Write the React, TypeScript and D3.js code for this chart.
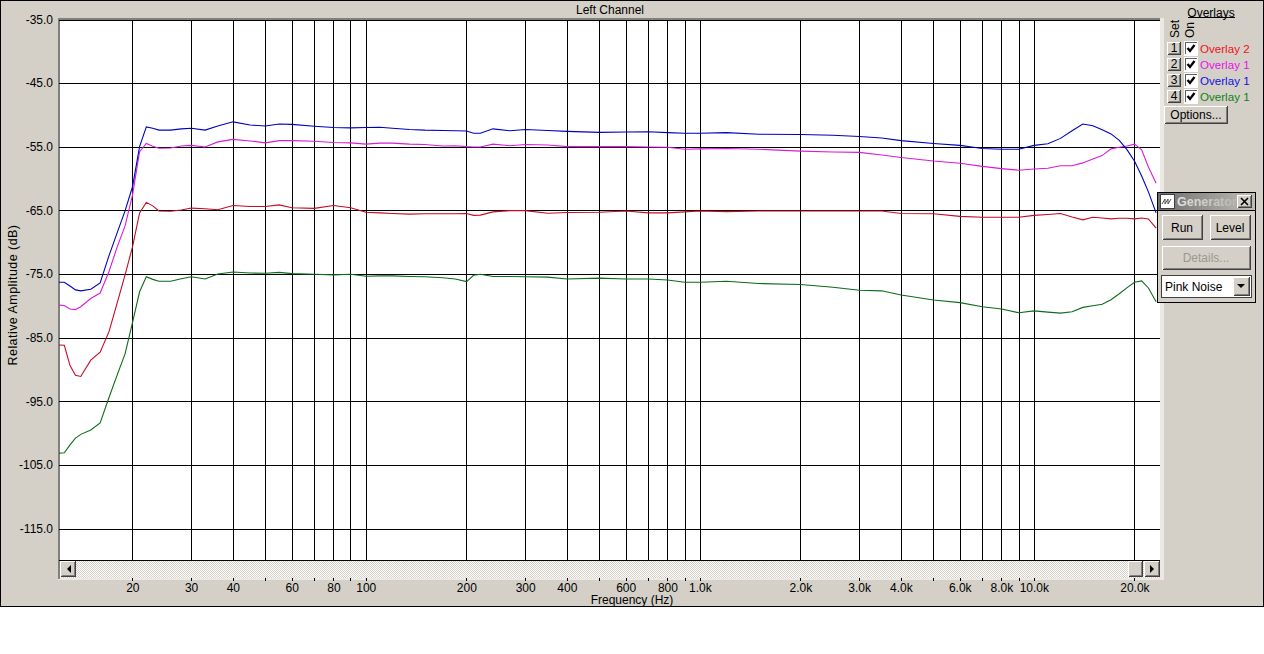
import React, { useRef, useEffect } from 'react';
import * as d3 from 'd3';

const { select, scaleLog, scaleLinear, axisLeft, axisTop, axisBottom, line } = d3;

// frequencies (Hz) the curves were read at
const freqs = [
  12.05, 12.5, 13, 13.5, 14, 15, 16, 17, 18, 19, 20, 21, 22, 23, 24, 26, 28, 30, 33, 36, 40, 45, 50, 55, 60, 70, 80, 90,
  100, 110, 120, 135, 150, 170, 185, 200, 210, 220, 240, 270, 300, 350, 400, 500, 600, 700, 800, 900, 1000, 1200, 1500,
  2000, 2500, 3000, 3500, 4000, 5000, 6000, 7000, 8000, 9000, 10000, 11000, 12000, 13000, 14000, 15000, 16000, 17000,
  18000, 19000, 20000, 21000, 22000, 23200,
];

const redDb = [
  -86.05, -86.1, -89.3, -90.8, -91, -88.45, -87.2, -84, -79.45, -75.05, -70.65, -65.3, -63.65, -64.2, -65, -65.05,
  -64.85, -64.55, -64.65, -64.8, -64.15, -64.3, -64.3, -64.05, -64.5, -64.6, -64.15, -64.5, -65.2, -65.3, -65.4, -65.5,
  -65.45, -65.45, -65.45, -65.4, -65.7, -65.65, -65.15, -64.95, -64.95, -65.35, -65.25, -65.2, -65, -65.3, -65.3,
  -65.15, -65, -65.1, -65, -65, -65, -65, -65, -65.4, -65.45, -65.85, -66, -66, -66, -65.7, -65.55, -65.4, -65.95,
  -66.4, -66, -66.1, -66.25, -66.15, -66.15, -66.25, -66.1, -66.25, -67.7,
];

const magentaDb = [
  -79.8, -79.85, -80.4, -80.5, -80.05, -78.75, -77.9, -74.55, -70.65, -67.35, -62.5, -55.7, -54.4, -54.85, -55.15,
  -55.1, -54.8, -54.7, -54.95, -54.15, -53.75, -54, -54.3, -53.95, -53.95, -54.05, -54.25, -54.3, -54.5, -54.35,
  -54.35, -54.5, -54.55, -54.8, -54.75, -54.9, -54.95, -54.95, -54.5, -54.75, -54.55, -54.65, -54.9, -54.9, -54.9,
  -54.95, -55, -55.3, -55.25, -55.2, -55.3, -55.6, -55.75, -55.8, -56.2, -56.6, -57.15, -57.5, -58, -58.35, -58.6,
  -58.4, -58.3, -57.9, -57.9, -57.45, -56.85, -56.3, -55.25, -55, -54.8, -54.5, -55.4, -58.1, -60.65,
];

const blueDb = [
  -76.2, -76.2, -76.8, -77.4, -77.55, -77.3, -76.3, -72.05, -68.4, -65, -61.2, -54.9, -51.8, -52, -52.3, -52.3, -52.1,
  -52, -52.3, -51.65, -51, -51.5, -51.65, -51.35, -51.4, -51.7, -51.9, -51.95, -51.9, -51.85, -52, -52.2, -52.3,
  -52.35, -52.4, -52.45, -52.8, -52.8, -52.1, -52.4, -52.2, -52.35, -52.5, -52.65, -52.6, -52.55, -52.7, -52.8, -52.8,
  -52.7, -52.95, -53, -53.1, -53.3, -53.55, -53.95, -54.4, -54.7, -55.2, -55.3, -55.3, -54.7, -54.45, -53.6, -52.4,
  -51.35, -51.6, -52.25, -52.9, -53.9, -55.4, -57.2, -59.5, -62, -65.3,
];

const greenDb = [
  -103.05, -103, -101.75, -100.7, -100.1, -99.4, -98.3, -94.35, -90.75, -87.45, -82.55, -77.7, -75.35, -75.75, -76.05,
  -76.05, -75.65, -75.35, -75.7, -74.9, -74.6, -74.75, -74.8, -74.65, -74.85, -74.95, -75.05, -74.95, -75.25, -75.2,
  -75.2, -75.3, -75.35, -75.5, -75.7, -76.1, -75.1, -74.95, -75.3, -75.3, -75.35, -75.4, -75.7, -75.55, -75.7, -75.7,
  -75.85, -76.2, -76.2, -76.05, -76.4, -76.55, -77, -77.45, -77.55, -78.2, -79, -79.4, -80.05, -80.4, -81, -80.7,
  -80.9, -81.05, -80.85, -80.15, -79.9, -79.65, -78.95, -78, -77.05, -76.2, -76, -77.1, -79.25,
];

const yTicks = [-35, -45, -55, -65, -75, -85, -95, -105, -115];
const xTicks = [
  20, 30, 40, 50, 60, 70, 80, 90, 100, 200, 300, 400, 500, 600, 700, 800, 900, 1000, 2000, 3000, 4000, 5000, 6000, 7000,
  8000, 9000, 10000, 20000,
];
const unlabelled = [50, 70, 90, 500, 700, 900, 5000, 7000, 9000];

const seriesList = [redDb, magentaDb, blueDb, greenDb];
const lineColors = ['#c80a28', '#d81cd8', '#0000c0', '#0c6c18'];
const legendNames = ['Overlay 2', 'Overlay 1', 'Overlay 1', 'Overlay 1'];
const legendColors = ['#f01020', '#e810e8', '#1010e0', '#108010'];
const setLabels = ['1', '2', '3', '4'];

const FACE = '#d4d0c8';
const FONT = '"Liberation Sans", Arial, sans-serif';

const formatFreq = (f: number) => {
  if (unlabelled.includes(f)) return '';
  return f >= 1000 ? `${(f / 1000).toFixed(1)}k` : `${f}`;
};

// raised windows-style button
const Bevel = ({ x, y, w, h, fill = FACE }: { x: number; y: number; w: number; h: number; fill?: string }) => (
  <g shapeRendering="crispEdges">
    <rect x={x} y={y} width={w} height={h} fill={fill} />
    <path d={`M${x + 0.5} ${y + h}V${y + 0.5}H${x + w}`} fill="none" stroke="#fff" />
    <path d={`M${x + 0.5} ${y + h - 0.5}H${x + w - 0.5}V${y}`} fill="none" stroke="#404040" />
    <path d={`M${x + 1.5} ${y + h - 1.5}H${x + w - 1.5}V${y + 1}`} fill="none" stroke="#808080" />
  </g>
);

const Label = ({ x, y, children, anchor = 'middle', fill = '#000', size = 12, spacing = 0 }: any) => (
  <text
    x={x}
    y={y}
    textAnchor={anchor}
    fill={fill}
    fontSize={size}
    fontFamily={FONT}
    letterSpacing={spacing}
    dominantBaseline="central"
  >
    {children}
  </text>
);

export default function App() {
  const plotRef = useRef<SVGGElement>(null);

  useEffect(() => {
    if (!plotRef.current) return;
    const left = 59;
    const right = 1160;
    const top = 20;
    const bottom = 560;

    const x = scaleLog().domain([12.05, 23830]).range([left, right]);
    const y = scaleLinear().domain([-35, -119.84]).range([top, bottom]);

    const svg = select(plotRef.current);
    svg.selectAll('*').remove();

    // horizontal grid with the dB labels
    const yAxis = svg
      .append('g')
      .attr('transform', `translate(${left},-0.5)`)
      .call(
        axisLeft(y)
          .tickValues(yTicks)
          .tickFormat(d => (d as number).toFixed(1))
          .tickSize(-(right - left))
          .tickPadding(6)
      );
    yAxis.select('.domain').remove();
    yAxis.selectAll('text').attr('font-family', FONT).attr('font-size', 12).attr('fill', '#000');
    yAxis.selectAll('line').attr('stroke', '#000').attr('shape-rendering', 'crispEdges');

    // vertical grid
    const xGrid = svg
      .append('g')
      .attr('transform', `translate(-0.2,${top})`)
      .call(
        axisTop(x)
          .tickValues(xTicks)
          .tickFormat(() => '')
          .tickSize(-(bottom - top))
      );
    xGrid.select('.domain').remove();
    xGrid.selectAll('line').attr('stroke', '#000').attr('shape-rendering', 'crispEdges');

    // tick marks and labels under the scrollbar
    const xAxis = svg
      .append('g')
      .attr('transform', 'translate(-0.2,578)')
      .call(
        axisBottom(x)
          .tickValues(xTicks)
          .tickFormat(d => formatFreq(d as number))
          .tickSize(3)
          .tickPadding(2)
      );
    xAxis.select('.domain').remove();
    xAxis.selectAll('text').attr('font-family', FONT).attr('font-size', 12).attr('fill', '#000');
    xAxis.selectAll('line').attr('stroke', '#000').attr('shape-rendering', 'crispEdges');

    const curve = line<number>()
      .x((_, i) => x(freqs[i]))
      .y(d => y(d));

    svg
      .selectAll('path.overlay')
      .data(seriesList)
      .enter()
      .append('path')
      .attr('class', 'overlay')
      .attr('fill', 'none')
      .attr('stroke', (_, i) => lineColors[i])
      .attr('stroke-width', 1.1)
      .attr('d', d => curve(d));
  }, []);

  return (
    <svg width={1264} height={654} style={{ position: 'absolute', left: 0, top: 0 }}>
      <defs>
        <pattern id="dither" width={2} height={2} patternUnits="userSpaceOnUse">
          <rect width={2} height={2} fill="#fff" />
          <rect width={1} height={1} fill={FACE} />
          <rect x={1} y={1} width={1} height={1} fill={FACE} />
        </pattern>
        <linearGradient id="title" x1="0" x2="1" y1="0" y2="0">
          <stop offset="0" stopColor="#6e6e6e" />
          <stop offset="1" stopColor="#c0bdb6" />
        </linearGradient>
        <linearGradient id="titleText" gradientUnits="userSpaceOnUse" x1={1177} x2={1236} y1={0} y2={0}>
          <stop offset="0" stopColor="#e4e2dc" />
          <stop offset="1" stopColor="#b8b6b0" />
        </linearGradient>
      </defs>

      {/* window */}
      <rect width={1264} height={654} fill="#fff" />
      <rect x={0.5} y={0.5} width={1263} height={606} fill={FACE} stroke="#000" shapeRendering="crispEdges" />

      {/* plot well */}
      <rect x={58} y={18} width={1106} height={562} fill="#ece9e4" />
      <rect x={58} y={18} width={1102} height={2} fill="#808080" />
      <rect x={58} y={18} width={2} height={561} fill="#808080" />
      <rect x={60} y={20} width={1100} height={540} fill="#fff" />

      {/* scrollbar */}
      <rect x={60} y={561} width={1100} height={17} fill="url(#dither)" />
      <line x1={59} x2={1160} y1={560.5} y2={560.5} stroke="#000" shapeRendering="crispEdges" />

      <g ref={plotRef} />

      <Bevel x={60} y={561} w={16} h={16} />
      <path d="M71 565v8l-4-4z" fill="#000" />
      <Bevel x={1128} y={561} w={15} h={16} />
      <Bevel x={1144} y={561} w={16} h={16} />
      <path d="M1150 565v8l4-4z" fill="#000" />

      <Label x={610} y={10}>Left Channel</Label>
      <Label x={632} y={600}>Frequency (Hz)</Label>
      <g transform="translate(13,295) rotate(-90)">
        <Label x={0} y={0} size={12.5} spacing={0.45}>Relative Amplitude (dB)</Label>
      </g>

      {/* overlays panel */}
      <Label x={1211} y={13}>Overlays</Label>
      <line x1={1188} x2={1235} y1={17.5} y2={17.5} stroke="#000" shapeRendering="crispEdges" />
      <g transform="translate(1175,29) rotate(-90)">
        <Label x={0} y={0}>Set</Label>
      </g>
      <g transform="translate(1190,30) rotate(-90)">
        <Label x={0} y={0}>On</Label>
      </g>
      {setLabels.map((s, i) => {
        const rowY = 42 + i * 16;
        return (
          <g key={s}>
            <Bevel x={1167} y={rowY} w={14} h={13} />
            <Label x={1174} y={rowY + 5.5}>{s}</Label>
            <rect x={1184} y={rowY - 1} width={14} height={15} fill="#fff" />
            <path
              d={`M${1185.5} ${rowY + 12}V${rowY + 0.5}H${1197}`}
              fill="none"
              stroke="#606060"
              shapeRendering="crispEdges"
            />
            <path d={`M${1187.5} ${rowY + 6}l2.5 3 4.5 -6`} fill="none" stroke="#000" strokeWidth={2.3} />
            <Label x={1200} y={rowY + 6} anchor="start" fill={legendColors[i]} size={11.6}>
              {legendNames[i]}
            </Label>
          </g>
        );
      })}
      <Bevel x={1164} y={106} w={64} h={18} />
      <Label x={1196} y={115}>Options...</Label>

      {/* generator palette */}
      <rect x={1157.5} y={192.5} width={98} height={110} fill={FACE} stroke="#000" shapeRendering="crispEdges" />
      <rect x={1158} y={193} width={97} height={17} fill="url(#title)" />
      <line x1={1158} x2={1255} y1={210.5} y2={210.5} stroke="#000" shapeRendering="crispEdges" />
      <rect x={1160} y={194} width={14} height={14} fill="#fff" stroke="#404040" shapeRendering="crispEdges" />
      <path d="M1162 204l3-5v5l3-5v5l3-5" fill="none" stroke="#505050" />
      <text x={1177} y={206} fontFamily={FONT} fontSize={12.5} fontWeight="bold" fill="url(#titleText)">
        Generator
      </text>
      <Bevel x={1237} y={195} w={15} h={13} />
      <path d="M1241 198l7 7M1248 198l-7 7" stroke="#000" strokeWidth={1.6} />
      <Bevel x={1162} y={215} w={41} h={25} />
      <Label x={1182} y={228}>Run</Label>
      <Bevel x={1210} y={215} w={41} h={25} />
      <Label x={1230} y={228}>Level</Label>
      <Bevel x={1162} y={246} w={89} h={24} />
      <Label x={1206} y={258} fill="#9a9890">Details...</Label>
      <rect x={1161.5} y={275.5} width={90} height={22} fill="#fff" stroke="#404040" shapeRendering="crispEdges" />
      <Label x={1165} y={287} anchor="start">Pink Noise</Label>
      <Bevel x={1233} y={277} w={17} h={19} />
      <path d="M1237 284h8l-4 4z" fill="#000" />
    </svg>
  );
}
